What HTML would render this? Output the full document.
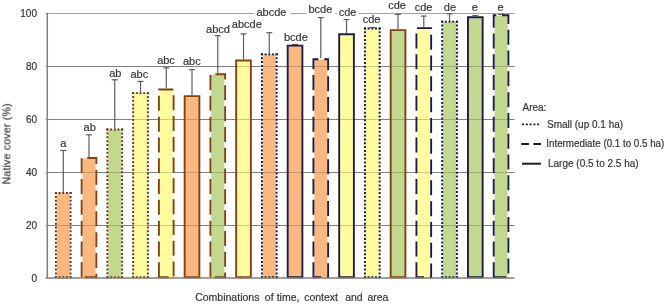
<!DOCTYPE html><html><head><meta charset="utf-8"><style>html,body{margin:0;padding:0;background:#fff;width:665px;height:304px;overflow:hidden}svg{display:block}text{font-family:"Liberation Sans",sans-serif;stroke:#363636;stroke-width:0.2px}.t{opacity:0.995}</style></head><body>
<svg width="665" height="304" viewBox="0 0 665 304">
<line x1="45.5" y1="225.50" x2="514.5" y2="225.50" stroke="#A0A0A0" stroke-width="1"/>
<line x1="45.5" y1="172.50" x2="514.5" y2="172.50" stroke="#A0A0A0" stroke-width="1"/>
<line x1="45.5" y1="119.50" x2="514.5" y2="119.50" stroke="#A0A0A0" stroke-width="1"/>
<line x1="45.5" y1="66.50" x2="514.5" y2="66.50" stroke="#A0A0A0" stroke-width="1"/>
<line x1="45.5" y1="13.50" x2="514.5" y2="13.50" stroke="#A0A0A0" stroke-width="1"/>
<g class="t">
<text x="37" y="281.8" font-size="10" fill="#363636" text-anchor="end">0</text>
<text x="37" y="229.4" font-size="10" fill="#363636" text-anchor="end">20</text>
<text x="37" y="176.4" font-size="10" fill="#363636" text-anchor="end">40</text>
<text x="37" y="123.4" font-size="10" fill="#363636" text-anchor="end">60</text>
<text x="37" y="70.4" font-size="10" fill="#363636" text-anchor="end">80</text>
<text x="37" y="17.4" font-size="10" fill="#363636" text-anchor="end">100</text>
</g>
<line x1="47.3" y1="12.9" x2="47.3" y2="278.6" stroke="#7F7F7F" stroke-width="1.5"/>
<line x1="63.25" y1="150.0" x2="63.25" y2="192.1" stroke="#5E5E5E" stroke-width="1.2"/>
<line x1="60.25" y1="150.5" x2="66.25" y2="150.5" stroke="#5E5E5E" stroke-width="1.2"/>
<rect x="56.76" y="193.48" width="12.99" height="83.77" fill="#FAB77F"/>
<line x1="89.00" y1="134.3" x2="89.00" y2="157.1" stroke="#5E5E5E" stroke-width="1.2"/>
<line x1="86.00" y1="134.8" x2="92.00" y2="134.8" stroke="#5E5E5E" stroke-width="1.2"/>
<rect x="82.51" y="158.48" width="12.99" height="118.77" fill="#FAB77F"/>
<line x1="114.76" y1="79.3" x2="114.76" y2="128.6" stroke="#5E5E5E" stroke-width="1.2"/>
<line x1="111.76" y1="79.8" x2="117.76" y2="79.8" stroke="#5E5E5E" stroke-width="1.2"/>
<rect x="108.26" y="129.98" width="12.99" height="147.27" fill="#C2D88E"/>
<line x1="140.51" y1="80.9" x2="140.51" y2="92.2" stroke="#5E5E5E" stroke-width="1.2"/>
<line x1="137.51" y1="81.4" x2="143.51" y2="81.4" stroke="#5E5E5E" stroke-width="1.2"/>
<rect x="134.01" y="93.58" width="12.99" height="183.67" fill="#FFFCA0"/>
<line x1="166.26" y1="67.3" x2="166.26" y2="88.6" stroke="#5E5E5E" stroke-width="1.2"/>
<line x1="163.26" y1="67.8" x2="169.26" y2="67.8" stroke="#5E5E5E" stroke-width="1.2"/>
<rect x="159.77" y="89.98" width="12.99" height="187.27" fill="#FFFCA0"/>
<line x1="192.01" y1="69.2" x2="192.01" y2="95.2" stroke="#5E5E5E" stroke-width="1.2"/>
<line x1="189.01" y1="69.7" x2="195.01" y2="69.7" stroke="#5E5E5E" stroke-width="1.2"/>
<rect x="184.66" y="96.15" width="14.70" height="181.10" fill="#FAB77F"/>
<line x1="217.77" y1="35.2" x2="217.77" y2="73.3" stroke="#5E5E5E" stroke-width="1.2"/>
<line x1="214.77" y1="35.7" x2="220.77" y2="35.7" stroke="#5E5E5E" stroke-width="1.2"/>
<rect x="211.27" y="74.68" width="12.99" height="202.57" fill="#C2D88E"/>
<line x1="243.52" y1="33.4" x2="243.52" y2="59.5" stroke="#5E5E5E" stroke-width="1.2"/>
<line x1="240.52" y1="33.9" x2="246.52" y2="33.9" stroke="#5E5E5E" stroke-width="1.2"/>
<rect x="236.17" y="60.45" width="14.70" height="216.80" fill="#FFFCA0"/>
<line x1="269.27" y1="32.2" x2="269.27" y2="53.4" stroke="#5E5E5E" stroke-width="1.2"/>
<line x1="266.27" y1="32.7" x2="272.27" y2="32.7" stroke="#5E5E5E" stroke-width="1.2"/>
<rect x="262.78" y="54.78" width="12.99" height="222.47" fill="#FAB77F"/>
<line x1="295.03" y1="44.0" x2="295.03" y2="44.7" stroke="#5E5E5E" stroke-width="1.2"/>
<line x1="292.03" y1="44.5" x2="298.03" y2="44.5" stroke="#5E5E5E" stroke-width="1.2"/>
<rect x="287.68" y="45.65" width="14.70" height="231.60" fill="#FAB77F"/>
<line x1="320.78" y1="17.2" x2="320.78" y2="58.3" stroke="#5E5E5E" stroke-width="1.2"/>
<line x1="317.78" y1="17.7" x2="323.78" y2="17.7" stroke="#5E5E5E" stroke-width="1.2"/>
<rect x="314.28" y="59.68" width="12.99" height="217.57" fill="#FAB77F"/>
<line x1="346.53" y1="19.0" x2="346.53" y2="33.3" stroke="#5E5E5E" stroke-width="1.2"/>
<line x1="343.53" y1="19.5" x2="349.53" y2="19.5" stroke="#5E5E5E" stroke-width="1.2"/>
<rect x="339.18" y="34.25" width="14.70" height="243.00" fill="#FFFCA0"/>
<line x1="372.29" y1="27.0" x2="372.29" y2="27.5" stroke="#5E5E5E" stroke-width="1.2"/>
<line x1="369.29" y1="27.5" x2="375.29" y2="27.5" stroke="#5E5E5E" stroke-width="1.2"/>
<rect x="365.79" y="28.88" width="12.99" height="248.37" fill="#FFFCA0"/>
<line x1="398.04" y1="13.8" x2="398.04" y2="29.2" stroke="#5E5E5E" stroke-width="1.2"/>
<line x1="395.04" y1="14.3" x2="401.04" y2="14.3" stroke="#5E5E5E" stroke-width="1.2"/>
<rect x="390.69" y="30.15" width="14.70" height="247.10" fill="#C2D88E"/>
<line x1="423.79" y1="15.6" x2="423.79" y2="27.2" stroke="#5E5E5E" stroke-width="1.2"/>
<line x1="420.79" y1="16.1" x2="426.79" y2="16.1" stroke="#5E5E5E" stroke-width="1.2"/>
<rect x="417.30" y="28.58" width="12.99" height="248.67" fill="#FFFCA0"/>
<line x1="449.55" y1="13.3" x2="449.55" y2="20.7" stroke="#5E5E5E" stroke-width="1.2"/>
<line x1="446.55" y1="13.8" x2="452.55" y2="13.8" stroke="#5E5E5E" stroke-width="1.2"/>
<rect x="443.05" y="22.08" width="12.99" height="255.17" fill="#C2D88E"/>
<line x1="475.30" y1="15.0" x2="475.30" y2="16.3" stroke="#5E5E5E" stroke-width="1.2"/>
<line x1="472.30" y1="15.5" x2="478.30" y2="15.5" stroke="#5E5E5E" stroke-width="1.2"/>
<rect x="467.95" y="17.25" width="14.70" height="260.00" fill="#C2D88E"/>
<line x1="501.05" y1="14.0" x2="501.05" y2="14.3" stroke="#5E5E5E" stroke-width="1.2"/>
<line x1="498.05" y1="14.5" x2="504.05" y2="14.5" stroke="#5E5E5E" stroke-width="1.2"/>
<rect x="494.56" y="15.68" width="12.99" height="261.57" fill="#C2D88E"/>
<g opacity="0.5" style="mix-blend-mode:multiply">
<line x1="48" y1="225.50" x2="514.5" y2="225.50" stroke="#A0A0A0" stroke-width="1"/>
<line x1="48" y1="172.50" x2="514.5" y2="172.50" stroke="#A0A0A0" stroke-width="1"/>
<line x1="48" y1="119.50" x2="514.5" y2="119.50" stroke="#A0A0A0" stroke-width="1"/>
<line x1="48" y1="66.50" x2="514.5" y2="66.50" stroke="#A0A0A0" stroke-width="1"/>
</g>
<line x1="55.90" y1="278.25" x2="55.90" y2="192.05" stroke="#6A3210" stroke-width="1.9" stroke-dasharray="2.0 1.827"/>
<line x1="54.90" y1="193.05" x2="71.60" y2="193.05" stroke="#6A3210" stroke-width="1.9" stroke-dasharray="2.0 1.675"/>
<line x1="70.60" y1="192.05" x2="70.60" y2="278.25" stroke="#6A3210" stroke-width="1.9" stroke-dasharray="2.0 1.827"/>
<line x1="71.60" y1="277.25" x2="54.90" y2="277.25" stroke="#6A3210" stroke-width="1.9" stroke-dasharray="2.0 1.675"/>
<path d="M81.65,277.25V158.05H96.35V277.25Z" fill="none" stroke="#83420E" stroke-width="1.9" stroke-dasharray="15 5.8"/>
<line x1="107.41" y1="278.25" x2="107.41" y2="128.55" stroke="#6A3210" stroke-width="1.9" stroke-dasharray="2.0 1.887"/>
<line x1="106.41" y1="129.55" x2="123.11" y2="129.55" stroke="#6A3210" stroke-width="1.9" stroke-dasharray="2.0 1.675"/>
<line x1="122.11" y1="128.55" x2="122.11" y2="278.25" stroke="#6A3210" stroke-width="1.9" stroke-dasharray="2.0 1.887"/>
<line x1="123.11" y1="277.25" x2="106.41" y2="277.25" stroke="#6A3210" stroke-width="1.9" stroke-dasharray="2.0 1.675"/>
<line x1="133.16" y1="278.25" x2="133.16" y2="92.15" stroke="#6A3210" stroke-width="1.9" stroke-dasharray="2.0 1.835"/>
<line x1="132.16" y1="93.15" x2="148.86" y2="93.15" stroke="#6A3210" stroke-width="1.9" stroke-dasharray="2.0 1.675"/>
<line x1="147.86" y1="92.15" x2="147.86" y2="278.25" stroke="#6A3210" stroke-width="1.9" stroke-dasharray="2.0 1.835"/>
<line x1="148.86" y1="277.25" x2="132.16" y2="277.25" stroke="#6A3210" stroke-width="1.9" stroke-dasharray="2.0 1.675"/>
<path d="M158.91,277.25V89.55H173.61V277.25Z" fill="none" stroke="#83420E" stroke-width="1.9" stroke-dasharray="15 5.8"/>
<path d="M184.66,277.25V96.15H199.36V277.25Z" fill="none" stroke="#83420E" stroke-width="1.9"/>
<path d="M210.42,277.25V74.25H225.12V277.25Z" fill="none" stroke="#83420E" stroke-width="1.9" stroke-dasharray="15 5.8"/>
<path d="M236.17,277.25V60.45H250.87V277.25Z" fill="none" stroke="#83420E" stroke-width="1.9"/>
<line x1="261.92" y1="278.25" x2="261.92" y2="53.35" stroke="#17173A" stroke-width="1.9" stroke-dasharray="2.0 1.843"/>
<line x1="260.92" y1="54.35" x2="277.62" y2="54.35" stroke="#17173A" stroke-width="1.9" stroke-dasharray="2.0 1.675"/>
<line x1="276.62" y1="53.35" x2="276.62" y2="278.25" stroke="#17173A" stroke-width="1.9" stroke-dasharray="2.0 1.843"/>
<line x1="277.62" y1="277.25" x2="260.92" y2="277.25" stroke="#17173A" stroke-width="1.9" stroke-dasharray="2.0 1.675"/>
<path d="M287.68,277.25V45.65H302.38V277.25Z" fill="none" stroke="#1D1D4A" stroke-width="1.9"/>
<path d="M313.43,277.25V59.25H328.13V277.25Z" fill="none" stroke="#1D1D4A" stroke-width="1.9" stroke-dasharray="15 5.8"/>
<path d="M339.18,277.25V34.25H353.88V277.25Z" fill="none" stroke="#1D1D4A" stroke-width="1.9"/>
<line x1="364.94" y1="278.25" x2="364.94" y2="27.45" stroke="#17173A" stroke-width="1.9" stroke-dasharray="2.0 1.828"/>
<line x1="363.94" y1="28.45" x2="380.64" y2="28.45" stroke="#17173A" stroke-width="1.9" stroke-dasharray="2.0 1.675"/>
<line x1="379.64" y1="27.45" x2="379.64" y2="278.25" stroke="#17173A" stroke-width="1.9" stroke-dasharray="2.0 1.828"/>
<line x1="380.64" y1="277.25" x2="363.94" y2="277.25" stroke="#17173A" stroke-width="1.9" stroke-dasharray="2.0 1.675"/>
<path d="M390.69,277.25V30.15H405.39V277.25Z" fill="none" stroke="#83420E" stroke-width="1.9"/>
<path d="M416.44,277.25V28.15H431.14V277.25Z" fill="none" stroke="#1D1D4A" stroke-width="1.9" stroke-dasharray="15 5.8"/>
<line x1="442.19" y1="278.25" x2="442.19" y2="20.65" stroke="#17173A" stroke-width="1.9" stroke-dasharray="2.0 1.873"/>
<line x1="441.19" y1="21.65" x2="457.90" y2="21.65" stroke="#17173A" stroke-width="1.9" stroke-dasharray="2.0 1.675"/>
<line x1="456.90" y1="20.65" x2="456.90" y2="278.25" stroke="#17173A" stroke-width="1.9" stroke-dasharray="2.0 1.873"/>
<line x1="457.90" y1="277.25" x2="441.19" y2="277.25" stroke="#17173A" stroke-width="1.9" stroke-dasharray="2.0 1.675"/>
<path d="M467.95,277.25V17.25H482.65V277.25Z" fill="none" stroke="#1D1D4A" stroke-width="1.9"/>
<path d="M493.70,277.25V15.25H508.40V277.25Z" fill="none" stroke="#1D1D4A" stroke-width="1.9" stroke-dasharray="15 5.8"/>
<line x1="45.5" y1="278.0" x2="514.5" y2="278.0" stroke="#7F7F7F" stroke-width="1.6"/>
<rect x="254" y="4" width="37.0" height="12" fill="#fff"/>
<rect x="306.4" y="4" width="28.9" height="12" fill="#fff"/>
<rect x="337" y="4" width="21.7" height="12" fill="#fff"/>
<g class="t">
<text x="63.40" y="147.2" font-size="11" fill="#363636" text-anchor="middle">a</text>
<text x="89.70" y="131.1" font-size="11" fill="#363636" text-anchor="middle">ab</text>
<text x="115.30" y="76.6" font-size="11" fill="#363636" text-anchor="middle">ab</text>
<text x="139.30" y="78.0" font-size="11" fill="#363636" text-anchor="middle">abc</text>
<text x="166.00" y="64.0" font-size="11" fill="#363636" text-anchor="middle">abc</text>
<text x="191.80" y="65.1" font-size="11" fill="#363636" text-anchor="middle">abc</text>
<text x="218.00" y="33.4" font-size="11" fill="#363636" text-anchor="middle">abcd</text>
<text x="246.80" y="27.6" font-size="11" fill="#363636" text-anchor="middle">abcde</text>
<text x="271.50" y="15.8" font-size="11" fill="#363636" text-anchor="middle">abcde</text>
<text x="295.90" y="41.0" font-size="11" fill="#363636" text-anchor="middle">bcde</text>
<text x="320.40" y="12.6" font-size="11" fill="#363636" text-anchor="middle">bcde</text>
<text x="347.50" y="16.0" font-size="11" fill="#363636" text-anchor="middle">cde</text>
<text x="371.60" y="22.9" font-size="11" fill="#363636" text-anchor="middle">cde</text>
<text x="397.00" y="9.2" font-size="11" fill="#363636" text-anchor="middle">cde</text>
<text x="423.50" y="10.9" font-size="11" fill="#363636" text-anchor="middle">cde</text>
<text x="449.90" y="10.9" font-size="11" fill="#363636" text-anchor="middle">de</text>
<text x="474.90" y="10.5" font-size="11" fill="#363636" text-anchor="middle">e</text>
<text x="500.60" y="10.5" font-size="11" fill="#363636" text-anchor="middle">e</text>
<text transform="translate(10.4,143.9) rotate(-90)" font-size="10.5" fill="#363636" text-anchor="middle" textLength="81" lengthAdjust="spacing">Native cover (%)</text>
<text x="195.2" y="301.2" font-size="10.5" fill="#363636">Combinations</text>
<text x="264.8" y="301.2" font-size="10.5" fill="#363636">of</text>
<text x="276.7" y="301.2" font-size="10.5" fill="#363636">time,</text>
<text x="304.2" y="301.2" font-size="10.5" fill="#363636">context</text>
<text x="345.2" y="301.2" font-size="10.5" fill="#363636">and</text>
<text x="367.4" y="301.2" font-size="10.5" fill="#363636">area</text>
<text x="522.5" y="111" font-size="10" fill="#363636">Area:</text>
<text x="547" y="128.3" font-size="10" fill="#363636">Small (up 0.1 ha)</text>
<text x="546.3" y="147.3" font-size="10" fill="#363636" textLength="118" lengthAdjust="spacingAndGlyphs">Intermediate (0.1 to 0.5 ha)</text>
<text x="548" y="166.5" font-size="10" fill="#363636">Large (0.5 to 2.5 ha)</text>
</g>
<line x1="522" y1="124.4" x2="539.2" y2="124.4" stroke="#1E1E1E" stroke-width="1.9" stroke-dasharray="2 1.79"/>
<line x1="521.2" y1="144" x2="541" y2="144" stroke="#1E1E1E" stroke-width="2" stroke-dasharray="7.8 4.4"/>
<line x1="522" y1="163.7" x2="541" y2="163.7" stroke="#1E1E1E" stroke-width="2"/>
</svg></body></html>
